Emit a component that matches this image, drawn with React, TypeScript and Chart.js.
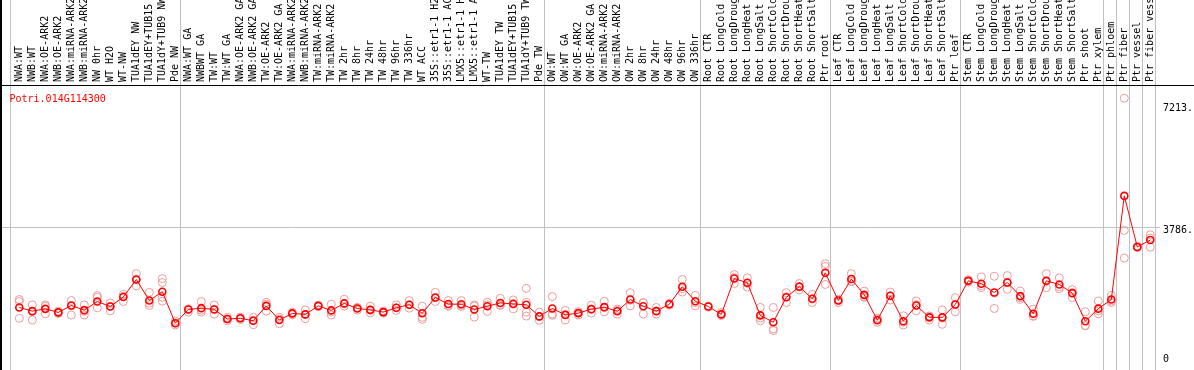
import React, { useEffect, useRef } from "react";
import { Chart, registerables } from "chart.js";

Chart.register(...registerables);

const title = "Potri.014G114300";

const categories = [
  "NWA:WT", "NWB:WT", "NWA:OE-ARK2", "NWB:OE-ARK2", "NWA:miRNA-ARK2", "NWB:miRNA-ARK2",
  "NW 0hr", "WT H2O", "WT-NW", "TUA1dEY NW", "TUA1dEY+TUB15", "TUA1dY+TUB9 NW", "Pde NW",
  "NWA:WT GA", "NWBWT GA", "TW:WT", "TW:WT GA", "NWA:OE-ARK2 GA", "NWB:OE-ARK2 GA",
  "TW:OE-ARK2", "TW:OE-ARK2 GA", "NWA:miRNA-ARK2", "NWB:miRNA-ARK2", "TW:miRNA-ARK2",
  "TW:miRNA-ARK2", "TW 2hr", "TW 8hr", "TW 24hr", "TW 48hr", "TW 96hr", "TW 336hr",
  "WT ACC", "35S::etr1-1 H2", "35S::etr1-1 AC", "LMX5::etr1-1 H", "LMX5::etr1-1 A",
  "WT-TW", "TUA1dEY TW", "TUA1dEY+TUB15", "TUA1dY+TUB9 TW", "Pde TW",
  "OW:WT", "OW:WT GA", "OW:OE-ARK2", "OW:OE-ARK2 GA", "OW:miRNA-ARK2", "OW:miRNA-ARK2",
  "OW 2hr", "OW 8hr", "OW 24hr", "OW 48hr", "OW 96hr", "OW 336hr",
  "Root CTR", "Root LongCold", "Root LongDroug", "Root LongHeat", "Root LongSalt",
  "Root ShortCold", "Root ShortDrou", "Root ShortHeat", "Root ShortSalt", "Ptr root",
  "Leaf CTR", "Leaf LongCold", "Leaf LongDroug", "Leaf LongHeat", "Leaf LongSalt",
  "Leaf ShortCold", "Leaf ShortDrou", "Leaf ShortHeat", "Leaf ShortSalt", "Ptr leaf",
  "Stem CTR", "Stem LongCold", "Stem LongDroug", "Stem LongHeat", "Stem LongSalt",
  "Stem ShortCold", "Stem ShortDrou", "Stem ShortHeat", "Stem ShortSalt", "Ptr shoot",
  "Ptr xylem", "Ptr phloem", "Ptr fiber", "Ptr vessel", "Ptr fiber vess",
];

const groupSizes = [13, 28, 12, 10, 10, 11, 1, 1, 1, 1];

const means = [
  1627, 1529, 1590, 1495, 1679, 1555, 1785, 1653, 1906, 2373, 1811, 2048, 1205,
  1574, 1608, 1574, 1318, 1337, 1273, 1669, 1292, 1468, 1442, 1669, 1548, 1735, 1600,
  1563, 1503, 1621, 1700, 1471, 1893, 1719, 1714, 1574, 1661, 1748, 1719, 1700, 1389,
  1600, 1429, 1476, 1582, 1635, 1524, 1838, 1661, 1529, 1714, 2180, 1793,
  1653, 1442, 2399, 2286, 1416, 1234, 1898, 2183, 1859, 2552,
  1811, 2386, 1964, 1284, 1938, 1260, 1679, 1363, 1363, 1706,
  2338, 2262, 2025, 2294, 1930, 1458, 2338, 2241, 2009, 1260, 1595,
  1838, 4606, 3243, 3427,
];

const repA = [
  1838, 1695, 1695, 1529, 1811, 1695, 1943, 1748, 1977, 2531, 2030, 2399, 1265,
  1590, 1785, 1695, 1363, 1371, 1363, 1766, 1363, 1503, 1563, 1687, 1714, 1845, 1627,
  1661, 1529, 1695, 1811, 1661, 2030, 1811, 1811, 1695, 1766, 1872, 1827, 2135, 1503,
  1917, 1548, 1516, 1687, 1793, 1582, 2022, 1758, 1627, 1740, 2373, 1951,
  1661, 1495, 2505, 2418, 1627, 1627, 2022, 2267, 1977, 2795,
  1758, 2531, 2064, 1231, 2038, 1405, 1801, 1292, 1563, 1890,
  2373, 2444, 2460, 2478, 2064, 1582, 2531, 2418, 2022, 1511, 1801,
  1951, 7213, 3261, 3567,
];

const repB = [
  1785, 1521, 1661, 1490, 1424, 1424, 1898, 1537, 1785, 2207, 1679, 2294, 1213,
  1503, 1503, 1582, 1273, 1337, 1168, 1714, 1194, 1468, 1326, 1661, 1424, 1661, 1555,
  1484, 1503, 1548, 1608, 1363, 1785, 1679, 1653, 1371, 1521, 1679, 1590, 1766, 1284,
  1450, 1292, 1476, 1582, 1511, 1450, 1669, 1450, 1450, 1714, 2038, 1669,
  1648, 1450, 2267, 2267, 1273, 1055, 1758, 2175, 1758, 2723,
  1845, 2328, 1917, 1345, 1827, 1160, 1537, 1397, 1178, 1511,
  2333, 2154, 1600, 2109, 1890, 1405, 2154, 2180, 1890, 1142, 1537,
  1758, 3683, 3224, 3235,
];

const repC = [
  1337, 1292, 1458, 1463, 1669, 1521, 1616, 1661, 1925, 2373, 1740, 1898, 1160,
  1574, 1555, 1450, 1318, 1305, 1292, 1529, 1318, 1432, 1437, 1648, 1503, 1727, 1621,
  1555, 1476, 1616, 1700, 1310, 1885, 1661, 1687, 1661, 1700, 1700, 1740, 1503, 1384,
  1416, 1437, 1424, 1476, 1627, 1555, 1819, 1753, 1537, 1687, 2128, 1758,
  1635, 1410, 2425, 2170, 1345, 1010, 1911, 2096, 1853, 2241,
  1819, 2312, 1898, 1318, 1932, 1231, 1700, 1397, 1345, 1714,
  2307, 2207, 2012, 2294, 1845, 1389, 2328, 2128, 2101, 1142, 1458,
  1801, 2945, 3243, 3480,
];

const repD = categories.map((_, i) => (i === 11 ? 1793 : i === 39 ? 1397 : null));

const yMax = 7540;
const gridValue = 3786;
const axisValues = [7213, 3786, 0];
const axisLabels = ["7213.", "3786.", "0"];
const axisBaselineShift = [12.6, 6.6, -6.7];

const FONT = '10px "DejaVu Sans Mono", "Liberation Mono", monospace';
const GREY = "#c0c0c0";
const RED = "#ff0000";
const PINK = "#eb9c9c";

const decorPlugin = {
  id: "decor",
  beforeDatasetsDraw(chart: any) {
    const ctx = chart.ctx;
    const xs = chart.scales.x;
    const ys = chart.scales.y;
    const H = chart.height;
    ctx.save();
    ctx.strokeStyle = GREY;
    ctx.lineWidth = 1;
    const gy = Math.round(ys.getPixelForValue(gridValue)) + 0.5;
    ctx.beginPath();
    ctx.moveTo(2, gy);
    ctx.lineTo(1160, gy);
    ctx.stroke();
    const seps: number[] = [xs.getPixelForValue(0) - 9];
    let acc = 0;
    for (const g of groupSizes) {
      acc += g;
      seps.push(xs.getPixelForValue(acc - 1) + 5);
    }
    for (const sx of seps) {
      const px = Math.round(sx) + 0.5;
      ctx.beginPath();
      ctx.moveTo(px, 0);
      ctx.lineTo(px, H);
      ctx.stroke();
    }
    ctx.restore();
  },
  afterDraw(chart: any) {
    const ctx = chart.ctx;
    const xs = chart.scales.x;
    const ys = chart.scales.y;
    const W = chart.width;
    const H = chart.height;
    ctx.save();
    // frame lines
    ctx.strokeStyle = "#000";
    ctx.lineWidth = 1;
    ctx.beginPath();
    ctx.moveTo(0, 85.5);
    ctx.lineTo(W, 85.5);
    ctx.stroke();
    ctx.lineWidth = 2;
    ctx.beginPath();
    ctx.moveTo(1, 0);
    ctx.lineTo(1, H);
    ctx.stroke();
    // header labels
    ctx.font = FONT;
    ctx.fillStyle = "#000";
    ctx.textAlign = "left";
    ctx.textBaseline = "alphabetic";
    categories.forEach((lab, i) => {
      const px = xs.getPixelForValue(i) + 3;
      ctx.save();
      ctx.translate(px, 82);
      ctx.rotate(-Math.PI / 2);
      ctx.fillText(lab, 0, 0);
      ctx.restore();
    });
    // title
    ctx.fillStyle = RED;
    ctx.fillText(title, 9.5, 101.5);
    // right axis labels
    ctx.fillStyle = "#000";
    axisValues.forEach((v, k) => {
      ctx.fillText(axisLabels[k], 1163, ys.getPixelForValue(v) + axisBaselineShift[k]);
    });
    ctx.restore();
  },
};

function repDataset(data: (number | null)[]) {
  return {
    type: "line" as const,
    data,
    showLine: false,
    borderColor: PINK,
    backgroundColor: "rgba(0,0,0,0)",
    pointRadius: 4,
    pointBorderWidth: 1,
    pointBorderColor: PINK,
    pointBackgroundColor: "rgba(0,0,0,0)",
    order: 2,
  };
}

export default function App() {
  const ref = useRef<HTMLCanvasElement | null>(null);
  useEffect(() => {
    if (!ref.current) return;
    const chart = new Chart(ref.current, {
      type: "line",
      data: {
        labels: categories,
        datasets: [
          {
            data: means,
            borderColor: RED,
            borderWidth: 1,
            backgroundColor: "rgba(0,0,0,0)",
            pointRadius: 3.5,
            pointBorderWidth: 1.6,
            pointBorderColor: RED,
            pointBackgroundColor: "rgba(0,0,0,0)",
            tension: 0,
            order: 1,
          } as any,
          repDataset(repA),
          repDataset(repB),
          repDataset(repC),
          repDataset(repD),
        ],
      },
      options: {
        animation: false,
        responsive: false,
        devicePixelRatio: 1,
        layout: { padding: { left: 12.8, right: 37.2, top: 86, bottom: 2 } },
        plugins: { legend: { display: false }, tooltip: { enabled: false } },
        scales: {
          x: { type: "category", offset: true, display: false },
          y: { type: "linear", min: 0, max: yMax, display: false },
        },
      } as any,
      plugins: [decorPlugin],
    });
    return () => chart.destroy();
  }, []);
  return (
    <div
      style={{
        position: "fixed",
        left: 0,
        top: 0,
        width: 1194,
        height: 370,
        overflow: "hidden",
        background: "#fff",
      }}
    >
      <canvas ref={ref} width={1194} height={374} style={{ display: "block" }} />
    </div>
  );
}
